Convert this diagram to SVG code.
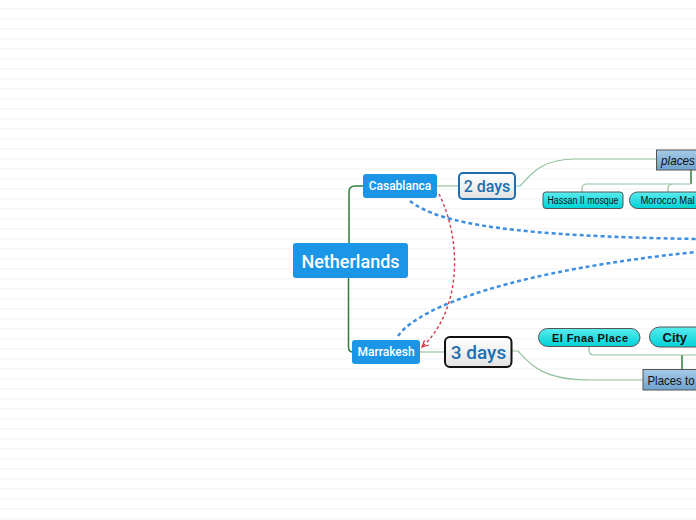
<svg xmlns="http://www.w3.org/2000/svg" width="696" height="520" viewBox="0 0 696 520">
<defs>
<pattern id="bg" width="696" height="10" patternUnits="userSpaceOnUse" y="3">
<rect width="696" height="10" fill="#ffffff"/>
<rect y="5" width="696" height="1.5" fill="#f6f6f6"/>
</pattern>
<linearGradient id="gw" x1="0" y1="0" x2="0" y2="1"><stop offset="0" stop-color="#ffffff"/><stop offset="1" stop-color="#e2e2e2"/></linearGradient>
<linearGradient id="gb" x1="0" y1="0" x2="0" y2="1"><stop offset="0" stop-color="#a6cbe8"/><stop offset="1" stop-color="#6ea2cf"/></linearGradient>
<linearGradient id="gc" x1="0" y1="0" x2="0" y2="1"><stop offset="0" stop-color="#5aecee"/><stop offset="1" stop-color="#00d2d8"/></linearGradient>
<marker id="arr" viewBox="0 0 10 10" refX="9" refY="5" markerWidth="8" markerHeight="8" orient="auto-start-reverse" markerUnits="userSpaceOnUse">
<path d="M1,1 L9,5 L1,9" fill="none" stroke="#d23a4a" stroke-width="1.6"/>
</marker>
<style>
.main{fill:#1b96e6;}
.wt{fill:#ffffff;font-family:Roboto,"Liberation Sans",sans-serif;font-weight:500;text-anchor:middle;dominant-baseline:central;}
.dk{stroke:#2f7d3a;stroke-width:1.5;fill:none;}
.lt{stroke:#94c29e;stroke-width:1.2;fill:none;}
.bd{stroke:#3d8fe0;stroke-width:2.5;fill:none;stroke-dasharray:4 3;}
.rd{stroke:#d23a4a;stroke-width:1.4;fill:none;stroke-dasharray:3 2.5;}
.cy{fill:url(#gc);stroke:#555;stroke-width:1;}
.pb{fill:url(#gb);stroke:#555;stroke-width:1;}
.bk{fill:#111;font-family:"Liberation Sans",Arial,sans-serif;dominant-baseline:central;}
.dy{fill:#1a6fb0;font-family:Roboto,"Liberation Sans",sans-serif;font-weight:500;text-anchor:middle;dominant-baseline:central;}
</style>
</defs>
<rect width="696" height="520" fill="url(#bg)"/>
<g id="connectors">
<path class="dk" d="M349,243 V192 Q349,186 355,186 H363"/>
<path class="dk" d="M348.5,278 V347 Q348.5,352 353,352"/>
<path class="lt" d="M437,186 H459"/>
<path class="lt" d="M420,352 H445"/>
<path class="lt" d="M515,186 H520 C530,176 540,159 575,159 H657"/>
<path class="lt" d="M511,351 H518 C528,362 540,380 590,380 H643"/>
<path class="dk" d="M691,170 V184"/>
<path class="lt" d="M691,184 H587 Q582,184 582,189 V192"/>
<path class="lt" d="M673,184 Q668,184 668,189 V192"/>
<path class="dk" d="M682,370 V355"/>
<path class="lt" d="M696,355 H594 Q589,355 589,350 V346"/>
<path class="bd" d="M410,201 C440,225 520,236 696,239"/>
<path class="bd" d="M398,336 C420,305 520,270 696,252"/>
<path class="rd" d="M439,194 C462,240 462,310 422,347" marker-end="url(#arr)"/>
</g>
<g id="netherlands">
<rect class="main" x="293" y="243" width="115" height="35" rx="3"/>
<text class="wt" x="350.5" y="261" font-size="18">Netherlands</text>
</g>
<g id="casablanca">
<rect class="main" x="363" y="174" width="74" height="24" rx="3"/>
<text class="wt" x="400" y="186" font-size="12">Casablanca</text>
</g>
<g id="marrakesh">
<rect class="main" x="352" y="340" width="68" height="24" rx="3"/>
<text class="wt" x="386" y="352" font-size="12">Marrakesh</text>
</g>
<g id="two-days">
<rect x="459" y="173" width="56" height="26" rx="4" fill="url(#gw)" stroke="#1c6fb0" stroke-width="2"/>
<text class="dy" x="487" y="186" font-size="16">2 days</text>
</g>
<g id="three-days">
<rect x="445" y="337" width="66.5" height="30" rx="5" fill="url(#gw)" stroke="#111" stroke-width="2"/>
<text class="dy" x="478.5" y="352" font-size="19">3 days</text>
</g>
<g id="places">
<rect class="pb" x="656.5" y="150" width="50" height="20"/>
<text class="bk" x="661" y="160" font-size="13" font-style="italic" textLength="34" lengthAdjust="spacingAndGlyphs">places</text>
</g>
<g id="hassan">
<rect class="cy" x="543" y="192" width="80" height="16.5" rx="3"/>
<text class="bk" x="583" y="200.5" font-size="10" font-family="Roboto,'Liberation Sans',sans-serif" text-anchor="middle" textLength="71" lengthAdjust="spacingAndGlyphs">Hassan II mosque</text>
</g>
<g id="morocco-mall">
<rect class="cy" x="629.5" y="192" width="80" height="16.5" rx="8"/>
<text class="bk" x="640.5" y="200.5" font-size="10" font-family="Roboto,'Liberation Sans',sans-serif" textLength="54" lengthAdjust="spacingAndGlyphs">Morocco Mal</text>
</g>
<g id="el-fnaa">
<rect class="cy" x="538.5" y="328.5" width="101.5" height="18" rx="9"/>
<text class="bk" x="552" y="337.8" font-size="11" font-weight="bold" textLength="76" lengthAdjust="spacing">El Fnaa Place</text>
</g>
<g id="city">
<rect class="cy" x="649.5" y="327" width="70" height="20" rx="10"/>
<text class="bk" x="662.5" y="337" font-size="13" font-weight="bold">City</text>
</g>
<g id="places-to">
<rect class="pb" x="643" y="369.5" width="70" height="20.5"/>
<text class="bk" x="647.5" y="380" font-size="13" textLength="47" lengthAdjust="spacingAndGlyphs">Places to</text>
</g>
</svg>
